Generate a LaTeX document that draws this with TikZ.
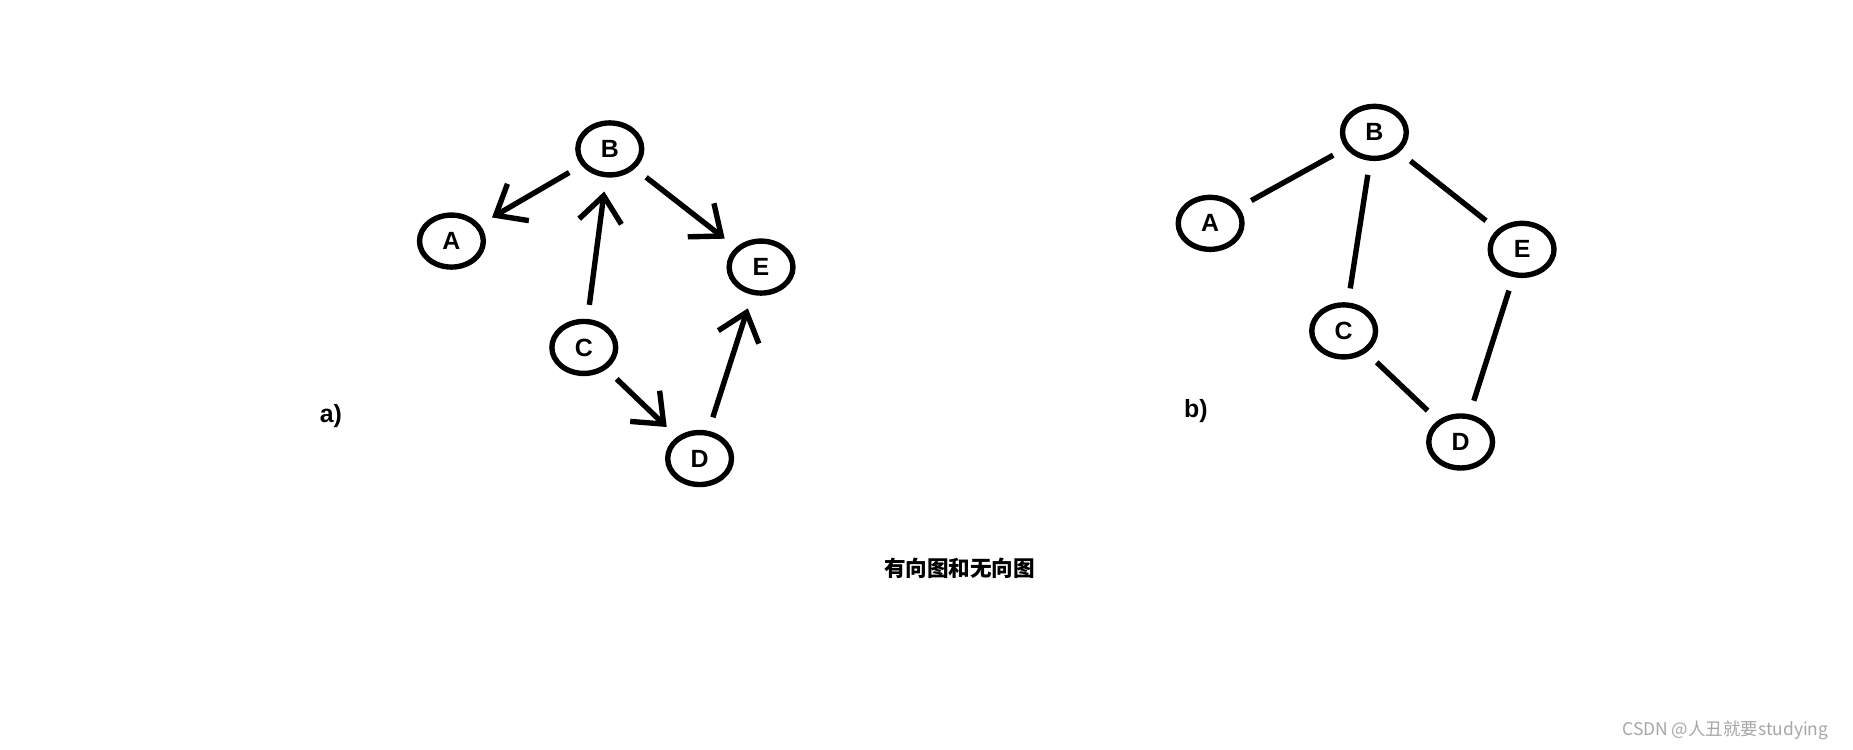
\documentclass[tikz,border=0pt]{standalone}
\usepackage{fontspec}
\setmainfont{Liberation Sans}
\newfontfamily\cjk{Noto Sans CJK SC}
\usetikzlibrary{shapes.geometric,arrows.meta}
\begin{document}
\begin{tikzpicture}[x=0.1mm,y=-0.1mm]

        % Styles
        \tikzset{vertex/.style={ellipse,draw,line width=1.3pt,minimum width=5.4mm,minimum height=4.4mm,inner sep=0pt,font=\fontsize{6}{7}\selectfont\bfseries}}
        \tikzset{edge/.style={line width=1.3pt,shorten <=1.2mm,shorten >=1.2mm}}
        \tikzset{arc/.style={edge,-{Straight Barb[length=2.2mm,width=3.6mm,line width=1.3pt]}}}
        \useasboundingbox (0,0) rectangle (1568,634);
        %directed graph
        \node[vertex] (a1) at (382,204) {A};
        \node[vertex] (b1) at (516,126) {B};
        \node[vertex] (e1) at (644,226) {E};
        \node[vertex] (c1) at (494,294) {C};
        \node[vertex] (d1) at (592,388) {D};
        \draw[arc] (b1) -- (a1);
        \draw[arc] (b1) -- (e1);
        \draw[arc] (c1) -- (b1);
        \draw[arc] (c1) -- (d1);
        \draw[arc] (d1) -- (e1);
        \node[font=\fontsize{6}{7}\selectfont\bfseries] (la) at (280,352) {a)};
        %undirected graph
        \node[vertex] (a2) at (1024,189) {A};
        \node[vertex] (b2) at (1163,112) {B};
        \node[vertex] (e2) at (1288,211) {E};
        \node[vertex] (c2) at (1137,280) {C};
        \node[vertex] (d2) at (1236,374) {D};
        \draw[edge] (a2) -- (b2);
        \draw[edge] (b2) -- (c2);
        \draw[edge] (b2) -- (e2);
        \draw[edge] (c2) -- (d2);
        \draw[edge] (e2) -- (d2);
        \node[font=\fontsize{6}{7}\selectfont\bfseries] (lb) at (1012,348) {b)};
        %captions
        \node[font=\cjk\fontsize{5.2}{6}\selectfont\bfseries] (title) at (812,481) {有向图和无向图};
        \node[font=\cjk\fontsize{4.2}{5}\selectfont,text=gray!70] (mark) at (1460,618) {CSDN @人丑就要studying};
\end{tikzpicture}
\end{document}
